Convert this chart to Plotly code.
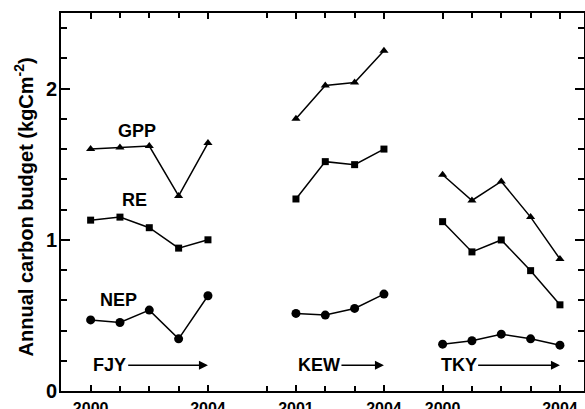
import plotly.graph_objects as go

# x positions on a shared axis (site groups laid side by side)
fjy_x = [0, 1, 2, 3, 4]          # FJY 2000-2004
kew_x = [7, 8, 9, 10]            # KEW 2001-2004
tky_x = [12, 13, 14, 15, 16]     # TKY 2000-2004

fjy_gpp = [1.60, 1.61, 1.62, 1.29, 1.64]
fjy_re = [1.13, 1.15, 1.08, 0.945, 1.00]
fjy_nep = [0.47, 0.453, 0.535, 0.345, 0.63]

kew_gpp = [1.80, 2.02, 2.04, 2.25]
kew_re = [1.27, 1.517, 1.497, 1.60]
kew_nep = [0.513, 0.502, 0.546, 0.641]

tky_gpp = [1.43, 1.26, 1.386, 1.15, 0.873]
tky_re = [1.12, 0.92, 0.999, 0.796, 0.57]
tky_nep = [0.31, 0.332, 0.376, 0.345, 0.303]

tick_vals = [0, 4, 7, 10, 12, 16]
tick_text = ["2000", "2004", "2001", "2004", "2000", "2004"]
minor_vals = [1, 2, 3, 6, 8, 9, 13, 14, 15]

fig = go.Figure()

def add(x, y, symbol, size):
    fig.add_trace(go.Scatter(
        x=x, y=y, mode="lines+markers",
        line=dict(color="black", width=1.5),
        marker=dict(symbol=symbol, size=size, color="black"),
        showlegend=False, cliponaxis=False))

for xs, g, r, n in [(fjy_x, fjy_gpp, fjy_re, fjy_nep),
                    (kew_x, kew_gpp, kew_re, kew_nep),
                    (tky_x, tky_gpp, tky_re, tky_nep)]:
    add(xs, g, "triangle-up", 8)
    add(xs, r, "square", 7)
    add(xs, n, "circle", 9)

font_b = dict(family="Liberation Sans, Arial, sans-serif", color="black")

ann = []
for txt, x, y in [("GPP", 1.58, 1.72), ("RE", 1.49, 1.264), ("NEP", 0.965, 0.60)]:
    ann.append(dict(text="<b>%s</b>" % txt, x=x, y=y, xref="x", yref="y",
                    showarrow=False, font=dict(size=18, **font_b),
                    xanchor="center", yanchor="middle"))

for txt, x0, xend, xhead in [("FJY", 0.0, 1.23, 4), ("KEW", 7.0, 8.5, 10),
                              ("TKY", 11.89, 13.16, 16)]:
    ann.append(dict(text="<b>%s</b>" % txt, x=x0, y=0.17, xref="x", yref="y",
                    showarrow=False, font=dict(size=18, **font_b),
                    xanchor="left", yanchor="middle"))
    ann.append(dict(text="", x=xhead, y=0.17, ax=xend, ay=0.17,
                    xref="x", yref="y", axref="x", ayref="y",
                    showarrow=True, arrowhead=2, arrowsize=1.2,
                    arrowwidth=1.5, arrowcolor="black"))

ann.append(dict(text="<b>Annual carbon budget (kgCm<sup>-2</sup>)</b>",
                x=-0.071, y=0.488, xref="paper", yref="paper",
                textangle=-90, showarrow=False,
                font=dict(size=20, **font_b),
                xanchor="center", yanchor="middle"))

fig.update_layout(
    width=585, height=409,
    margin=dict(l=61, r=1, t=13, b=18, autoexpand=False),
    paper_bgcolor="white", plot_bgcolor="white",
    annotations=ann,
)

fig.update_xaxes(
    range=[-1.01, 16.82], showgrid=False, zeroline=False,
    showline=True, linecolor="black", linewidth=2, mirror="ticks",
    ticks="inside", ticklen=6, tickwidth=1.5, tickcolor="black",
    tickvals=tick_vals, ticktext=["<b>%s</b>" % t for t in tick_text],
    tickfont=dict(size=16, **font_b), ticklabelstandoff=2,
    minor=dict(tickvals=minor_vals, ticks="inside", ticklen=5,
               tickwidth=1.5, tickcolor="black"),
    automargin=False,
)
fig.update_yaxes(
    range=[0, 2.5], showgrid=False, zeroline=False,
    showline=True, linecolor="black", linewidth=2, mirror="ticks",
    ticks="inside", ticklen=9, tickwidth=1.5, tickcolor="black",
    tickvals=[0, 1, 2], ticktext=["<b>0</b>", "<b>1</b>", "<b>2</b>"],
    tickfont=dict(size=20, **font_b), ticklabelstandoff=-2,
    minor=dict(dtick=0.2, ticks="inside", ticklen=6,
               tickwidth=1.5, tickcolor="black"),
    automargin=False,
)

fig.write_html(
    "out.html",
    config={"displayModeBar": False},
    post_script="document.body.style.margin='0';document.body.style.overflow='hidden';",
)
